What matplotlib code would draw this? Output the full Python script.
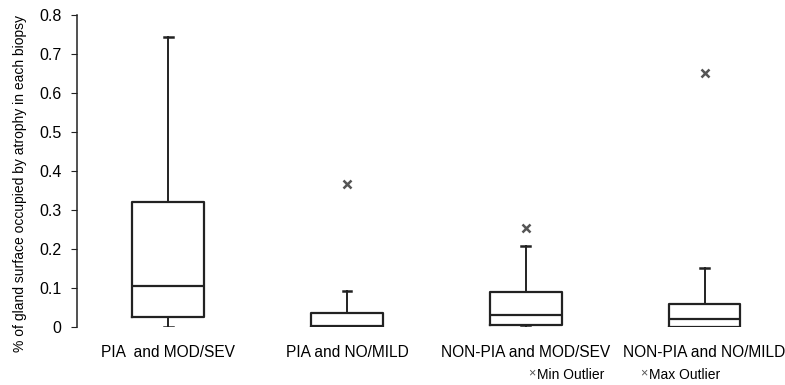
import matplotlib.pyplot as plt

plt.rcParams['font.family'] = ['Liberation Sans', 'DejaVu Sans']

# Groups and box statistics
groups = ['PIA  and MOD/SEV', 'PIA and NO/MILD', 'NON-PIA and MOD/SEV', 'NON-PIA and NO/MILD']
whislo = [0.0, 0.0, 0.0, 0.0]
q1 = [0.026, 0.0, 0.005, 0.0]
med = [0.105, 0.002, 0.031, 0.020]
q3 = [0.320, 0.036, 0.090, 0.059]
whishi = [0.744, 0.092, 0.208, 0.151]
outliers = [[], [0.366], [0.254], [0.651]]

stats = []
for i in range(len(groups)):
    stats.append({'whislo': whislo[i], 'q1': q1[i], 'med': med[i], 'q3': q3[i],
                  'whishi': whishi[i], 'fliers': outliers[i]})

fig = plt.figure(figsize=(7.85, 3.85), dpi=100)
ax = fig.add_axes([77 / 785, 58 / 385, 1 - 77 / 785, 312 / 385])

pos = [1, 2, 3, 4]
ax.bxp(stats, positions=pos, widths=0.4, capwidths=0.05, showfliers=False,
       boxprops={'color': '#222222', 'linewidth': 1.6},
       medianprops={'color': '#222222', 'linewidth': 1.6},
       whiskerprops={'color': '#222222', 'linewidth': 1.4},
       capprops={'color': '#222222', 'linewidth': 1.8})

for p, out in zip(pos, outliers):
    if out:
        ax.plot([p] * len(out), out, linestyle='none', marker='x', markersize=6,
                markeredgewidth=1.8, color='#555555')

ax.set_xlim(0.49, 4.45)
ax.set_ylim(0, 0.8)
ax.set_yticks([0, 0.1, 0.2, 0.3, 0.4, 0.5, 0.6, 0.7, 0.8])
ax.set_yticklabels(['0', '0.1', '0.2', '0.3', '0.4', '0.5', '0.6', '0.7', '0.8'], fontsize=11.5)
ax.set_xticks(pos)
ax.set_xticklabels(groups, fontsize=11.2)
ax.tick_params(axis='x', length=0, pad=13)
ax.tick_params(axis='y', length=4, color='#222222', pad=7)
for s in ['top', 'right', 'bottom']:
    ax.spines[s].set_visible(False)
ax.spines['left'].set_color('#222222')
ax.spines['left'].set_linewidth(1.1)
ax.set_ylabel('% of gland surface occupied by atrophy in each biopsy', fontsize=10)
ax.yaxis.set_label_coords(-0.07, 0.46)

# legend for outlier markers
fig.text(528 / 785, 1 - 373 / 385, '\u00d7', fontsize=9, color='#555555', va='center')
fig.text(537 / 785, 1 - 375 / 385, 'Min Outlier', fontsize=10, va='center')
fig.text(640 / 785, 1 - 373 / 385, '\u00d7', fontsize=9, color='#555555', va='center')
fig.text(649 / 785, 1 - 375 / 385, 'Max Outlier', fontsize=10, va='center')

fig.savefig('out.png', dpi=100)
